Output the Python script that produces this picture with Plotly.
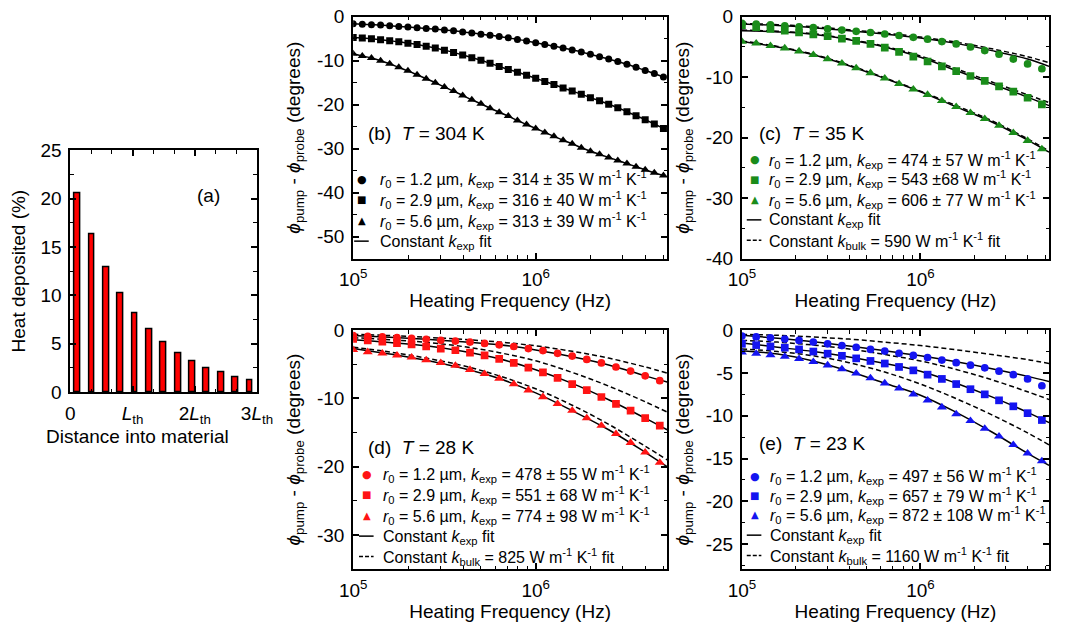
import plotly.graph_objects as go

FONT = "Liberation Sans, Arial, Helvetica, sans-serif"
W, H = 1066, 639

# ---------------- panel (a): heat deposited vs depth ----------------
depth_L = [0.115, 0.346, 0.577, 0.808, 1.038, 1.269, 1.500, 1.731, 1.962, 2.192, 2.423, 2.654, 2.885]
heat_pct = [20.6, 16.3, 12.9, 10.2, 8.1, 6.5, 5.1, 4.0, 3.2, 2.5, 2.0, 1.55, 1.2]
depth_tickvals = [0, 1, 2, 3]
depth_ticktext = ["0", "<i>L</i><sub>th</sub>", "2<i>L</i><sub>th</sub>", "3<i>L</i><sub>th</sub>"]
heat_tickvals = [0, 5, 10, 15, 20, 25]

# ---------------- frequencies (Hz) ----------------
freq_b = [100000, 112200, 125900, 141300, 158500, 177800, 199500, 223900, 251200, 281800,
          316200, 354800, 398100, 446700, 501200, 562300, 631000, 707900, 794300, 891300,
          1000000, 1122000, 1259000, 1413000, 1585000, 1778000, 1995000, 2239000, 2512000, 2818000,
          3162000, 3548000, 3981000, 4467000, 5012000]
freq_cde = [100000, 120200, 144500, 173800, 208900, 251200, 302000, 363100, 436500, 524800,
            631000, 758600, 912000, 1096000, 1318000, 1585000, 1905000, 2291000, 2754000, 3311000,
            3981000, 4786000]
freq_fit = [100000, 158500, 251200, 398100, 631000, 1000000, 1585000, 2512000, 3981000, 5248000]
freq_tickvals = [1e5, 1e6]
freq_ticktext = ["10<sup>5</sup>", "10<sup>6</sup>"]
freq_minor = [2e5, 3e5, 4e5, 5e5, 6e5, 7e5, 8e5, 9e5, 2e6, 3e6, 4e6, 5e6]

# ---------------- panel (b) T = 304 K ----------------
b_r12 = [-1.6, -1.7, -1.8, -1.9, -2.05, -2.2, -2.35, -2.5, -2.65, -2.8,
         -3.0, -3.2, -3.45, -3.7, -3.95, -4.2, -4.5, -4.8, -5.15, -5.5,
         -5.9, -6.3, -6.7, -7.1, -7.55, -8.0, -8.55, -9.1, -9.6, -10.2,
         -10.8, -11.5, -12.2, -12.9, -13.7]
b_r29 = [-4.7, -4.85, -5.0, -5.2, -5.45, -5.7, -6.0, -6.3, -6.7, -7.1,
         -7.6, -8.1, -8.7, -9.3, -9.9, -10.6, -11.3, -12.0, -12.6, -13.3,
         -14.0, -14.7, -15.4, -16.2, -16.9, -17.6, -18.4, -19.1, -19.9, -20.7,
         -21.6, -22.5, -23.4, -24.4, -25.4]
b_r56 = [-8.4, -8.9, -9.4, -10.0, -10.7, -11.5, -12.3, -13.2, -14.1, -15.0,
         -16.0, -16.9, -17.9, -18.9, -19.8, -20.8, -21.7, -22.6, -23.6, -24.5,
         -25.4, -26.3, -27.2, -28.1, -28.9, -29.8, -30.6, -31.3, -32.0, -32.7,
         -33.4, -34.1, -34.8, -35.5, -36.1]

# ---------------- panel (c) T = 35 K ----------------
c_r12 = [-1.1, -1.2, -1.35, -1.5, -1.65, -1.8, -2.0, -2.2, -2.4, -2.6, -2.85,
         -3.1, -3.4, -3.7, -4.1, -4.5, -5.0, -5.6, -6.2, -7.0, -7.8, -8.6]
c_r29 = [-1.4, -1.7, -2.0, -2.3, -2.6, -2.9, -3.2, -3.6, -4.0, -4.5, -5.1,
         -5.8, -6.6, -7.4, -8.2, -9.0, -9.8, -10.6, -11.5, -12.4, -13.4, -14.5]
c_r56 = [-4.1, -4.4, -4.8, -5.2, -5.7, -6.3, -7.0, -7.7, -8.5, -9.3, -10.2,
         -11.1, -12.0, -12.9, -13.9, -14.9, -15.9, -16.9, -18.0, -19.2, -20.5, -21.9]
c_fit_r12 = [-1.2, -1.45, -1.8, -2.3, -2.85, -3.5, -4.4, -5.6, -7.0, -8.2]
c_fit_r29 = [-2.3, -2.5, -2.9, -3.8, -5.0, -6.7, -8.9, -11.1, -13.3, -14.7]
c_fit_r56 = [-4.1, -5.0, -6.3, -8.1, -10.2, -12.4, -14.9, -17.4, -20.4, -22.4]
c_bulk_r12 = [-1.1, -1.3, -1.65, -2.15, -2.7, -3.35, -4.2, -5.3, -6.6, -7.6]
c_bulk_r29 = [-2.2, -2.4, -2.8, -3.7, -4.9, -6.5, -8.6, -10.8, -12.9, -14.2]
c_bulk_r56 = [-4.0, -4.9, -6.2, -8.0, -10.1, -12.3, -14.7, -17.2, -20.2, -22.2]

# ---------------- panel (d) T = 28 K ----------------
d_r12 = [-0.8, -0.9, -1.0, -1.1, -1.2, -1.35, -1.5, -1.6, -1.75, -1.95, -2.15,
         -2.4, -2.7, -3.0, -3.4, -3.8, -4.3, -4.8, -5.4, -6.0, -6.7, -7.4]
d_r29 = [-1.3, -1.5, -1.7, -1.9, -2.1, -2.4, -2.7, -2.95, -3.3, -3.7, -4.2,
         -4.8, -5.5, -6.2, -7.0, -7.9, -8.8, -9.8, -10.8, -11.8, -12.9, -14.0]
d_r56 = [-2.9, -3.2, -3.4, -3.7, -4.0, -4.4, -4.8, -5.2, -5.8, -6.4, -7.1,
         -7.9, -8.8, -9.8, -10.8, -11.8, -12.9, -14.0, -15.2, -16.5, -17.9, -19.4]
d_fit_r12 = [-0.8, -1.05, -1.35, -1.7, -2.15, -2.9, -3.9, -5.1, -6.7, -7.6]
d_fit_r29 = [-1.4, -1.8, -2.3, -3.1, -4.2, -5.8, -7.8, -10.2, -12.9, -14.6]
d_fit_r56 = [-2.7, -3.5, -4.4, -5.6, -7.1, -9.2, -11.8, -14.6, -17.9, -20.0]
d_bulk_r12 = [-0.6, -0.8, -1.05, -1.35, -1.75, -2.3, -3.1, -4.1, -5.4, -6.3]
d_bulk_r29 = [-1.1, -1.4, -1.8, -2.4, -3.3, -4.5, -6.2, -8.2, -10.5, -12.0]
d_bulk_r56 = [-2.5, -3.2, -4.1, -5.2, -6.7, -8.6, -11.0, -13.8, -17.0, -19.0]

# ---------------- panel (e) T = 23 K ----------------
e_r12 = [-0.7, -0.8, -0.9, -1.05, -1.2, -1.4, -1.6, -1.8, -2.0, -2.25, -2.45,
         -2.7, -2.95, -3.2, -3.5, -3.8, -4.1, -4.4, -4.8, -5.2, -5.7, -6.5]
e_r29 = [-1.6, -1.75, -1.9, -2.05, -2.25, -2.5, -2.75, -3.0, -3.3, -3.6, -3.9,
         -4.3, -4.7, -5.2, -5.7, -6.3, -6.9, -7.5, -8.2, -8.9, -9.7, -10.5]
e_r56 = [-2.6, -2.75, -2.9, -3.1, -3.35, -3.7, -4.1, -4.55, -5.05, -5.6, -6.2,
         -6.8, -7.5, -8.2, -9.0, -9.8, -10.6, -11.5, -12.4, -13.4, -14.4, -15.3]
e_fit_r12 = [-0.6, -0.95, -1.35, -1.85, -2.4, -3.0, -3.7, -4.5, -5.4, -6.0]
e_fit_r29 = [-1.5, -2.0, -2.5, -3.15, -3.9, -4.8, -6.2, -7.8, -9.6, -10.8]
e_fit_r56 = [-2.4, -2.8, -3.6, -4.8, -6.2, -7.6, -9.6, -11.9, -14.4, -15.8]
e_bulk_r12 = [-0.5, -0.6, -0.8, -1.05, -1.4, -1.8, -2.3, -2.85, -3.45, -3.9]
e_bulk_r29 = [-1.2, -1.4, -1.75, -2.2, -2.85, -3.6, -4.6, -5.8, -7.2, -8.1]
e_bulk_r56 = [-2.2, -2.5, -3.0, -3.8, -4.9, -6.3, -8.0, -9.9, -12.0, -13.4]

# ---------------- legend / label texts ----------------
def kline(r0, k, dk):
    return ("<i>r</i><sub>0</sub> = %s µm, <i>k</i><sub>exp</sub> = %s %s W m<sup>-1</sup> K<sup>-1</sup>"
            % (r0, k, dk))

legend_b = [kline("1.2", "314", "± 35"), kline("2.9", "316", "± 40"), kline("5.6", "313", "± 39"),
            "Constant <i>k</i><sub>exp</sub> fit"]
legend_c = [kline("1.2", "474", "± 57"), kline("2.9", "543", "±68"), kline("5.6", "606", "± 77"),
            "Constant <i>k</i><sub>exp</sub> fit",
            "Constant <i>k</i><sub>bulk</sub> = 590 W m<sup>-1</sup> K<sup>-1</sup> fit"]
legend_d = [kline("1.2", "478", "± 55"), kline("2.9", "551", "± 68"), kline("5.6", "774", "± 98"),
            "Constant <i>k</i><sub>exp</sub> fit",
            "Constant <i>k</i><sub>bulk</sub> = 825 W m<sup>-1</sup> K<sup>-1</sup> fit"]
legend_e = [kline("1.2", "497", "± 56"), kline("2.9", "657", "± 79"), kline("5.6", "872", "± 108"),
            "Constant <i>k</i><sub>exp</sub> fit",
            "Constant <i>k</i><sub>bulk</sub> = 1160 W m<sup>-1</sup> K<sup>-1</sup> fit"]
panel_labels = ["(b)  <i>T</i> = 304 K", "(c)  <i>T</i> = 35 K", "(d)  <i>T</i> = 28 K", "(e)  <i>T</i> = 23 K"]

phase_title = "<i>ϕ</i><sub>pump</sub> - <i>ϕ</i><sub>probe</sub> (degrees)"

# ---------------- helpers ----------------
def px(x):
    return x / W

def py(y):
    return 1 - y / H

BLACK = "#000000"
GREEN = "#1a8c1a"
RED = "#ff1414"
BLUE = "#1414f0"

fig = go.Figure()

# panel (a) bars
fig.add_trace(go.Bar(x=depth_L, y=heat_pct, width=0.094, xaxis="x", yaxis="y",
                     marker=dict(color="#ff0000", line=dict(color="black", width=1.5)),
                     showlegend=False))

symbols = ["circle", "square", "triangle-up"]
msize = {"circle": 7, "square": 7, "triangle-up": 8}

panels = [
    dict(ax="2", color=BLACK, freq=freq_b, data=[b_r12, b_r29, b_r56],
         fits=[b_r12, b_r29, b_r56], fit_freq=freq_b, bulk=None, msz=1.0),
    dict(ax="3", color=GREEN, freq=freq_cde, data=[c_r12, c_r29, c_r56],
         fits=[c_fit_r12, c_fit_r29, c_fit_r56], fit_freq=freq_fit,
         bulk=[c_bulk_r12, c_bulk_r29, c_bulk_r56], msz=1.1),
    dict(ax="4", color=RED, freq=freq_cde, data=[d_r12, d_r29, d_r56],
         fits=[d_fit_r12, d_fit_r29, d_fit_r56], fit_freq=freq_fit,
         bulk=[d_bulk_r12, d_bulk_r29, d_bulk_r56], msz=1.1),
    dict(ax="5", color=BLUE, freq=freq_cde, data=[e_r12, e_r29, e_r56],
         fits=[e_fit_r12, e_fit_r29, e_fit_r56], fit_freq=freq_fit,
         bulk=[e_bulk_r12, e_bulk_r29, e_bulk_r56], msz=1.1),
]

for p in panels:
    xa, ya = "x" + p["ax"], "y" + p["ax"]
    if p["bulk"] is not None:
        for yb in p["bulk"]:
            fig.add_trace(go.Scatter(x=p["fit_freq"], y=yb, mode="lines", xaxis=xa, yaxis=ya,
                                     line=dict(color="black", width=1.5, dash="5px,3px", shape="spline"),
                                     showlegend=False))
    for yf in p["fits"]:
        fig.add_trace(go.Scatter(x=p["fit_freq"], y=yf, mode="lines", xaxis=xa, yaxis=ya,
                                 line=dict(color="black", width=1.5, shape="spline"),
                                 showlegend=False))
    for sym, yd in zip(symbols, p["data"]):
        fig.add_trace(go.Scatter(x=p["freq"], y=yd, mode="markers", xaxis=xa, yaxis=ya,
                                 marker=dict(symbol=sym, size=msize[sym] * p["msz"], color=p["color"],
                                             line=dict(width=0)),
                                 showlegend=False))

# ---------------- axes ----------------
TF = 19
tickfont = dict(family=FONT, size=TF, color="black")
titlefont = dict(family=FONT, size=19, color="black")
common = dict(showline=True, linecolor="black", linewidth=2, mirror="allticks", ticks="inside",
              ticklen=6, tickwidth=1.5, tickcolor="black", showgrid=False, zeroline=False,
              tickfont=tickfont, ticklabelstandoff=3)

def logx(domain):
    return dict(common, type="log", domain=domain, range=[5, 6.72], tickmode="array",
                tickvals=freq_tickvals, ticktext=freq_ticktext,
                minor=dict(ticks="inside", ticklen=3.5, tickwidth=1.2, tickcolor="black",
                           tickmode="array", tickvals=freq_minor),
                title=dict(text="Heating Frequency (Hz)", font=titlefont, standoff=2))

def liny(domain, rng, vals, minor_dt, anchor):
    return dict(common, domain=domain, range=rng, tickmode="array", tickvals=vals,
                ticktext=[str(v) for v in vals],
                minor=dict(ticks="inside", ticklen=3.5, tickwidth=1.2, tickcolor="black", dtick=minor_dt, tick0=0),
                title=dict(text=phase_title, font=titlefont, standoff=11),
                anchor=anchor)

dom_bx = [px(349), px(672)]
dom_cx = [px(749), px(1065)]
dom_top = [py(257), py(7)]
dom_bot = [py(578), py(331)]

layout = dict(
    width=W, height=H, margin=dict(l=0, r=0, t=0, b=0),
    paper_bgcolor="white", plot_bgcolor="white", showlegend=False,
    font=dict(family=FONT, size=16, color="black"),
    bargap=0,
    xaxis=dict(common, domain=[px(58), px(250)], range=[0, 3], tickmode="array",
               tickvals=depth_tickvals, ticktext=depth_ticktext, anchor="y",
               minor=dict(ticks="inside", ticklen=3.5, tickwidth=1.2, tickcolor="black", dtick=1 / 3, tick0=0)),
    yaxis=dict(common, domain=[py(395), py(145)], range=[0, 25], tickmode="array",
               tickvals=heat_tickvals, ticktext=[str(v) for v in heat_tickvals], anchor="x",
               minor=dict(ticks="inside", ticklen=3.5, tickwidth=1.2, tickcolor="black", dtick=2.5, tick0=0),
               title=dict(text="Heat deposited (%)", font=titlefont, standoff=10)),
    xaxis2=dict(logx(dom_bx), anchor="y2"),
    yaxis2=liny(dom_top, [-55, 0], [0, -10, -20, -30, -40, -50], 5, "x2"),
    xaxis3=dict(logx(dom_cx), anchor="y3"),
    yaxis3=liny(dom_top, [-40, 0], [0, -10, -20, -30, -40], 5, "x3"),
    xaxis4=dict(logx(dom_bx), anchor="y4"),
    yaxis4=liny(dom_bot, [-35, 0], [0, -10, -20, -30], 5, "x4"),
    xaxis5=dict(logx(dom_cx), anchor="y5"),
    yaxis5=liny(dom_bot, [-27.9, 0], [0, -5, -10, -15, -20, -25], 2.5, "x5"),
)
fig.update_layout(**layout)

annotations = []
shapes = []

# panel (a) label and x title
annotations.append(dict(text="(a)", x=px(200), y=py(192), xref="paper", yref="paper",
                        xanchor="center", yanchor="middle",
                        showarrow=False, font=dict(family=FONT, size=19)))
annotations.append(dict(text="Distance into material", x=px(127), y=py(428), xref="paper", yref="paper",
                        xanchor="center", yanchor="top",
                        showarrow=False, font=dict(family=FONT, size=19)))

# panel labels
label_pos = [(362, 128), (765, 128), (362, 452), (765, 448)]
for txt, (lx, ly) in zip(panel_labels, label_pos):
    annotations.append(dict(text=txt, x=px(lx), y=py(ly), xref="paper", yref="paper", xanchor="left",
                            yanchor="middle", showarrow=False, font=dict(family=FONT, size=19)))

# legends built from text
legend_specs = [
    (legend_b, BLACK, 358, 375, [175, 196, 218, 240]),
    (legend_c, GREEN, 762, 775, [155, 175, 196, 218, 239]),
    (legend_d, RED, 363, 378, [480, 501, 523, 545, 566]),
    (legend_e, BLUE, 762, 776, [482, 502, 522, 544, 565]),
]
glyphs = [("●", 11), ("■", 10), ("▲", 10)]
for texts, col, sx, tx, rows in legend_specs:
    for i, (t, ry) in enumerate(zip(texts, rows)):
        annotations.append(dict(text=t, x=px(tx), y=py(ry), xref="paper", yref="paper", xanchor="left",
                                yanchor="middle", showarrow=False, font=dict(family=FONT, size=16)))
        if i < 3:
            g, gs = glyphs[i]
            annotations.append(dict(text=g, x=px(sx), y=py(ry), xref="paper", yref="paper",
                                    xanchor="center", yanchor="middle", showarrow=False,
                                    font=dict(family="DejaVu Sans", size=gs, color=col)))
        else:
            shapes.append(dict(type="line", xref="paper", yref="paper", x0=px(sx - 8), x1=px(sx + 7),
                               y0=py(ry - 1), y1=py(ry - 1),
                               line=dict(color="black", width=1.5, dash="solid" if i == 3 else "4px,2px")))

fig.update_layout(annotations=annotations, shapes=shapes)
fig.write_html("out.html")
